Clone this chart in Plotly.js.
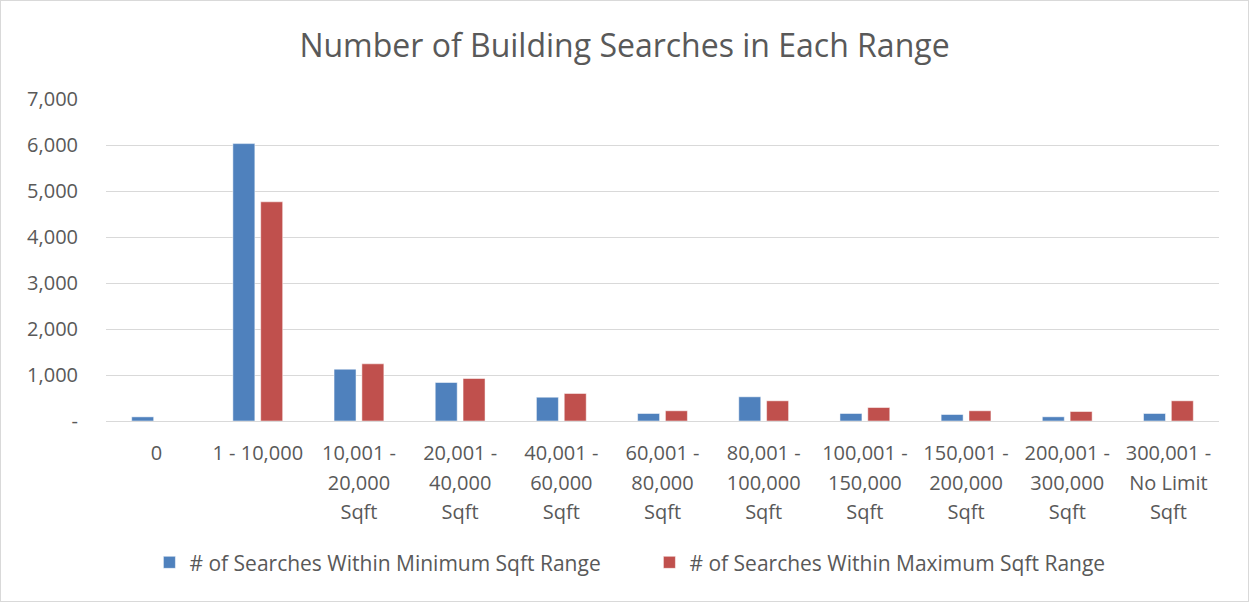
<!DOCTYPE html>
<html><head><meta charset="utf-8">
<script src="https://cdn.plot.ly/plotly-3.0.1.min.js"></script>
<style>html,body{margin:0;padding:0;background:#fff}#chart{width:1249px;height:602px;box-sizing:border-box;border:1px solid #d9d9d9}</style>
</head><body><div id="chart"></div>
<script>
const categories = ["0","1 - 10,000","10,001 -<br>20,000<br>Sqft","20,001 -<br>40,000<br>Sqft","40,001 -<br>60,000<br>Sqft","60,001 -<br>80,000<br>Sqft","80,001 -<br>100,000<br>Sqft","100,001 -<br>150,000<br>Sqft","150,001 -<br>200,000<br>Sqft","200,001 -<br>300,000<br>Sqft","300,001 -<br>No Limit<br>Sqft"];
const minSearches = [90, 6030, 1126, 837, 517, 163, 526, 163, 141, 91, 163];
const maxSearches = [0, 4765, 1243, 924, 598, 222, 439, 293, 222, 206, 439];
const yTickVals = [0,1000,2000,3000,4000,5000,6000,7000];
const yTickText = ["-","1,000","2,000","3,000","4,000","5,000","6,000","7,000"];
const seriesNames = ["# of Searches Within Minimum Sqft Range","# of Searches Within Maximum Sqft Range"];

// shrink glyphs while keeping the wider line spacing of the base tick font
const xTickText = categories.map(c => c.split("<br>").map(s => '<span style="font-size:20px">' + s + '</span>').join("<br>"));

const font = "Open Sans, sans-serif";
const data = [
  {type:"bar", x:categories, y:minSearches, name:seriesNames[0], marker:{color:"#4F81BD", line:{color:"#ffffff", width:0.5}}, hoverinfo:"y"},
  {type:"bar", x:categories, y:maxSearches, name:seriesNames[1], marker:{color:"#C0504D", line:{color:"#ffffff", width:0.5}}, hoverinfo:"y"}
];
const layout = {
  width:1247, height:600,
  margin:{l:105, r:29, t:98, b:180},
  paper_bgcolor:"#fff", plot_bgcolor:"#fff",
  title:{text:"Number of Building Searches in Each Range", font:{family:font, size:32, color:"#595959"}, x:0.5, xanchor:"center", y:0.925, yanchor:"middle"},
  barmode:"group", bargap:0.45, bargroupgap:0.21,
  font:{family:font, color:"#595959", size:20},
  xaxis:{type:"category", tickmode:"array", tickvals:categories, ticktext:xTickText, showgrid:false, showline:true, linecolor:"#d9d9d9", linewidth:1, ticks:"", ticklabelstandoff:10, tickfont:{family:font, size:23, color:"#595959"}, tickangle:0, automargin:false},
  yaxis:{range:[0,7000], tickvals:yTickVals, ticktext:yTickText, showgrid:true, gridcolor:"#d9d9d9", gridwidth:1, zeroline:false, showline:false, ticks:"", ticklabelstandoff:27, tickfont:{family:font, size:20, color:"#595959"}, automargin:false},
  legend:{orientation:"h", x:0.039, xanchor:"left", y:-0.44, yanchor:"middle", font:{family:font, size:21, color:"#595959"}, traceorder:"normal", itemwidth:30, entrywidth:455, entrywidthmode:"pixels"},
  showlegend:true
};
Plotly.newPlot("chart", data, layout, {displayModeBar:false, staticPlot:true});
</script></body></html>
